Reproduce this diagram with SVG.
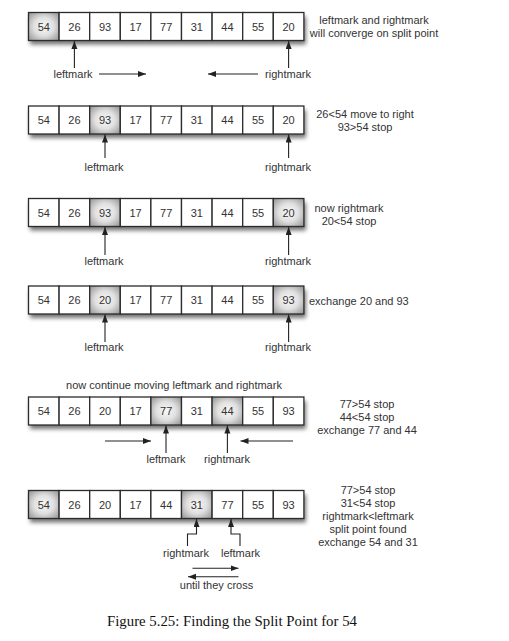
<svg xmlns="http://www.w3.org/2000/svg" width="509" height="641" viewBox="0 0 509 641">
<style>
.bg{fill:#fff}
.cell{fill:#fff;stroke:#2b2b2b;stroke-width:1.3}
.hl{fill:url(#sh);stroke:#2b2b2b;stroke-width:1.3}
.shadow{fill:#000;opacity:.55;filter:url(#blur)}
.num{font-family:"Liberation Sans",Arial,sans-serif;font-size:11px;fill:#333;text-anchor:middle}
.lbl{font-family:"Liberation Sans",Arial,sans-serif;font-size:11px;fill:#333;text-anchor:middle}
.note{font-family:"Liberation Sans",Arial,sans-serif;font-size:11px;fill:#333;text-anchor:middle}
.arr{fill:none;stroke:#222;stroke-width:1.1;marker-end:url(#ah)}
.cap{font-family:"Liberation Serif","Times New Roman",serif;font-size:14.8px;fill:#111;text-anchor:middle}
</style>
<defs>
<radialGradient id="sh" cx="50%" cy="50%" r="65%">
<stop offset="0" stop-color="#f8f8f8"/>
<stop offset="0.5" stop-color="#e0e0e0"/>
<stop offset="1" stop-color="#9c9c9c"/>
</radialGradient>
<filter id="blur" x="-10%" y="-40%" width="120%" height="180%">
<feGaussianBlur stdDeviation="2"/>
</filter>
<marker id="ah" markerUnits="userSpaceOnUse" markerWidth="9" markerHeight="8" refX="8" refY="3" orient="auto">
<path d="M0,0 L8,3 L0,6 z" fill="#222"/>
</marker>
</defs>
<rect class="bg" x="0" y="0" width="509" height="641"/>

<g id="row1">
<rect class="shadow" x="30" y="16.5" width="276" height="28"/>
<rect class="hl" x="28.5" y="12.5" width="30.6" height="28"/>
<rect class="cell" x="59.1" y="12.5" width="30.6" height="28"/>
<rect class="cell" x="89.7" y="12.5" width="30.6" height="28"/>
<rect class="cell" x="120.3" y="12.5" width="30.6" height="28"/>
<rect class="cell" x="150.9" y="12.5" width="30.6" height="28"/>
<rect class="cell" x="181.5" y="12.5" width="30.6" height="28"/>
<rect class="cell" x="212.1" y="12.5" width="30.6" height="28"/>
<rect class="cell" x="242.7" y="12.5" width="30.6" height="28"/>
<rect class="cell" x="273.3" y="12.5" width="30.6" height="28"/>
<text class="num" y="30.5"><tspan x="43.8">54</tspan><tspan x="74.4">26</tspan><tspan x="105">93</tspan><tspan x="135.6">17</tspan><tspan x="166.2">77</tspan><tspan x="196.8">31</tspan><tspan x="227.4">44</tspan><tspan x="258">55</tspan><tspan x="288.6">20</tspan></text>
<text class="note" x="374" y="24">leftmark and rightmark</text>
<text class="note" x="374" y="37">will converge on split point</text>
<text class="lbl" x="73" y="78">leftmark</text>
<text class="lbl" x="288" y="78">rightmark</text>
</g>

<g id="row2">
<rect class="shadow" x="30" y="110" width="276" height="28"/>
<rect class="cell" x="28.5" y="106" width="30.6" height="28"/>
<rect class="cell" x="59.1" y="106" width="30.6" height="28"/>
<rect class="hl" x="89.7" y="106" width="30.6" height="28"/>
<rect class="cell" x="120.3" y="106" width="30.6" height="28"/>
<rect class="cell" x="150.9" y="106" width="30.6" height="28"/>
<rect class="cell" x="181.5" y="106" width="30.6" height="28"/>
<rect class="cell" x="212.1" y="106" width="30.6" height="28"/>
<rect class="cell" x="242.7" y="106" width="30.6" height="28"/>
<rect class="cell" x="273.3" y="106" width="30.6" height="28"/>
<text class="num" y="124"><tspan x="43.8">54</tspan><tspan x="74.4">26</tspan><tspan x="105">93</tspan><tspan x="135.6">17</tspan><tspan x="166.2">77</tspan><tspan x="196.8">31</tspan><tspan x="227.4">44</tspan><tspan x="258">55</tspan><tspan x="288.6">20</tspan></text>
<text class="note" x="365" y="118">26&lt;54 move to right</text>
<text class="note" x="365" y="131">93&gt;54 stop</text>
<text class="lbl" x="104" y="171">leftmark</text>
<text class="lbl" x="288" y="171">rightmark</text>
</g>

<g id="row3">
<rect class="shadow" x="30" y="202.5" width="276" height="28"/>
<rect class="cell" x="28.5" y="198.5" width="30.6" height="28"/>
<rect class="cell" x="59.1" y="198.5" width="30.6" height="28"/>
<rect class="hl" x="89.7" y="198.5" width="30.6" height="28"/>
<rect class="cell" x="120.3" y="198.5" width="30.6" height="28"/>
<rect class="cell" x="150.9" y="198.5" width="30.6" height="28"/>
<rect class="cell" x="181.5" y="198.5" width="30.6" height="28"/>
<rect class="cell" x="212.1" y="198.5" width="30.6" height="28"/>
<rect class="cell" x="242.7" y="198.5" width="30.6" height="28"/>
<rect class="hl" x="273.3" y="198.5" width="30.6" height="28"/>
<text class="num" y="216.5"><tspan x="43.8">54</tspan><tspan x="74.4">26</tspan><tspan x="105">93</tspan><tspan x="135.6">17</tspan><tspan x="166.2">77</tspan><tspan x="196.8">31</tspan><tspan x="227.4">44</tspan><tspan x="258">55</tspan><tspan x="288.6">20</tspan></text>
<text class="note" x="349" y="212">now rightmark</text>
<text class="note" x="349" y="225">20&lt;54 stop</text>
<text class="lbl" x="104" y="265">leftmark</text>
<text class="lbl" x="288" y="265">rightmark</text>
</g>

<g id="row4">
<rect class="shadow" x="30" y="290" width="276" height="28"/>
<rect class="cell" x="28.5" y="286" width="30.6" height="28"/>
<rect class="cell" x="59.1" y="286" width="30.6" height="28"/>
<rect class="hl" x="89.7" y="286" width="30.6" height="28"/>
<rect class="cell" x="120.3" y="286" width="30.6" height="28"/>
<rect class="cell" x="150.9" y="286" width="30.6" height="28"/>
<rect class="cell" x="181.5" y="286" width="30.6" height="28"/>
<rect class="cell" x="212.1" y="286" width="30.6" height="28"/>
<rect class="cell" x="242.7" y="286" width="30.6" height="28"/>
<rect class="hl" x="273.3" y="286" width="30.6" height="28"/>
<text class="num" y="304"><tspan x="43.8">54</tspan><tspan x="74.4">26</tspan><tspan x="105">20</tspan><tspan x="135.6">17</tspan><tspan x="166.2">77</tspan><tspan x="196.8">31</tspan><tspan x="227.4">44</tspan><tspan x="258">55</tspan><tspan x="288.6">93</tspan></text>
<text class="note" x="309" y="305" style="text-anchor:start">exchange 20 and 93</text>
<text class="lbl" x="104" y="351">leftmark</text>
<text class="lbl" x="288" y="351">rightmark</text>
</g>

<g id="row5">
<text class="note" x="174" y="389">now continue moving leftmark and rightmark</text>
<rect class="shadow" x="30" y="401" width="276" height="28"/>
<rect class="cell" x="28.5" y="397" width="30.6" height="28"/>
<rect class="cell" x="59.1" y="397" width="30.6" height="28"/>
<rect class="cell" x="89.7" y="397" width="30.6" height="28"/>
<rect class="cell" x="120.3" y="397" width="30.6" height="28"/>
<rect class="hl" x="150.9" y="397" width="30.6" height="28"/>
<rect class="cell" x="181.5" y="397" width="30.6" height="28"/>
<rect class="hl" x="212.1" y="397" width="30.6" height="28"/>
<rect class="cell" x="242.7" y="397" width="30.6" height="28"/>
<rect class="cell" x="273.3" y="397" width="30.6" height="28"/>
<text class="num" y="415"><tspan x="43.8">54</tspan><tspan x="74.4">26</tspan><tspan x="105">20</tspan><tspan x="135.6">17</tspan><tspan x="166.2">77</tspan><tspan x="196.8">31</tspan><tspan x="227.4">44</tspan><tspan x="258">55</tspan><tspan x="288.6">93</tspan></text>
<text class="note" x="367" y="408">77&gt;54 stop</text>
<text class="note" x="367" y="421">44&lt;54 stop</text>
<text class="note" x="367" y="434">exchange 77 and 44</text>
<text class="lbl" x="166" y="463">leftmark</text>
<text class="lbl" x="227" y="463">rightmark</text>
</g>

<g id="row6">
<rect class="shadow" x="30" y="494.5" width="276" height="28"/>
<rect class="hl" x="28.5" y="490.5" width="30.6" height="28"/>
<rect class="cell" x="59.1" y="490.5" width="30.6" height="28"/>
<rect class="cell" x="89.7" y="490.5" width="30.6" height="28"/>
<rect class="cell" x="120.3" y="490.5" width="30.6" height="28"/>
<rect class="cell" x="150.9" y="490.5" width="30.6" height="28"/>
<rect class="hl" x="181.5" y="490.5" width="30.6" height="28"/>
<rect class="cell" x="212.1" y="490.5" width="30.6" height="28"/>
<rect class="cell" x="242.7" y="490.5" width="30.6" height="28"/>
<rect class="cell" x="273.3" y="490.5" width="30.6" height="28"/>
<text class="num" y="508.5"><tspan x="43.8">54</tspan><tspan x="74.4">26</tspan><tspan x="105">20</tspan><tspan x="135.6">17</tspan><tspan x="166.2">44</tspan><tspan x="196.8">31</tspan><tspan x="227.4">77</tspan><tspan x="258">55</tspan><tspan x="288.6">93</tspan></text>
<text class="note" x="368" y="494">77&gt;54 stop</text>
<text class="note" x="368" y="507">31&lt;54 stop</text>
<text class="note" x="368" y="520">rightmark&lt;leftmark</text>
<text class="note" x="368" y="533">split point found</text>
<text class="note" x="368" y="546">exchange 54 and 31</text>
<text class="lbl" x="186" y="557">rightmark</text>
<text class="lbl" x="240.5" y="557">leftmark</text>
<text class="lbl" x="216.5" y="589">until they cross</text>
</g>

<g id="connectors">
<path class="arr" d="M74.4,68 V41"/>
<path class="arr" d="M288.6,68 V41"/>
<path class="arr" d="M99,74 H146"/>
<path class="arr" d="M258,74 H208"/>
<path class="arr" d="M105,158 V134.5"/>
<path class="arr" d="M288.6,158 V134.5"/>
<path class="arr" d="M105,255 V227"/>
<path class="arr" d="M288.6,255 V227"/>
<path class="arr" d="M105,342 V314.5"/>
<path class="arr" d="M288.6,342 V314.5"/>
<path class="arr" d="M166,453 V425.5"/>
<path class="arr" d="M227.4,453 V425.5"/>
<path class="arr" d="M105,441 H151"/>
<path class="arr" d="M293,441 H240.5"/>
<path class="arr" d="M187.5,546 V534 H196.5 V519"/>
<path class="arr" d="M240,546 V534 H231 V519"/>
<path class="arr" d="M192.5,568.3 H238.5"/>
<path class="arr" d="M238.5,576.7 H188"/>
</g>

<text class="cap" x="232" y="626">Figure 5.25: Finding the Split Point for 54</text>
</svg>
